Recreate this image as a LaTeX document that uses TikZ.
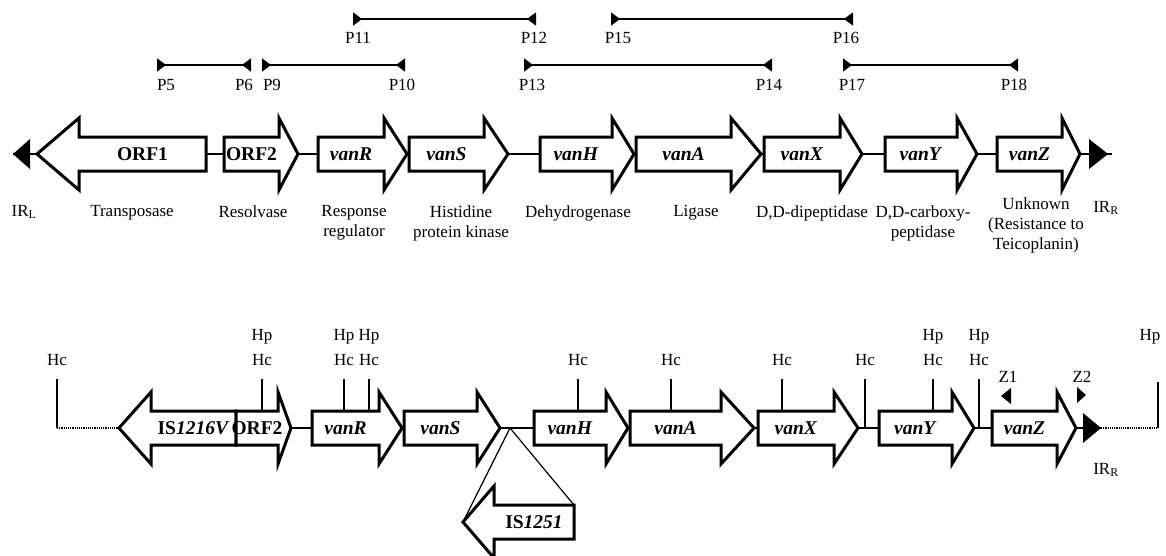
\documentclass[tikz,border=0pt]{standalone}
\usepackage{fontspec}
\setmainfont{Liberation Serif}
\usetikzlibrary{arrows.meta}

\tikzset{
  genebox/.style={draw, line width=3pt, fill=white, line join=miter},
  genelabel/.style={font=\fontsize{19.5}{22}\selectfont\bfseries, inner sep=0pt},
  txt/.style={font=\fontsize{17}{20}\selectfont, inner sep=0pt, align=center},
  primer/.style={line width=1.5pt, {Triangle[reversed,length=9pt,width=13pt]}-{Triangle[reversed,length=9pt,width=13pt]}},
  site/.style={line width=1.2pt},
  link/.style={line width=1.5pt},
}
% gene arrow: name, back end, head base, tip, middle y, text
\newcommand{\gene}[6]{%
  \draw[genebox] (#2,#5-17) -- (#3,#5-17) -- (#3,#5-36) -- (#4,#5) -- (#3,#5+36) -- (#3,#5+17) -- (#2,#5+17) -- cycle;
  \node[genelabel] (#1) at ({(#2+#3)/2},#5) {#6};
}

\begin{document}
\begin{tikzpicture}[line cap=butt, line join=round, x=1pt, y=-1pt]
  \fill[white] (0,0) rectangle (1166,555);
  \useasboundingbox (0,0) rectangle (1166,555);

  % PCR primer pairs, upper row then lower row
  \coordinate (p11) at (353,19);  \coordinate (p12) at (536,19);
  \coordinate (p15) at (611,19);  \coordinate (p16) at (853,19);
  \coordinate (p5) at (157,65);   \coordinate (p6) at (251,65);
  \coordinate (p9) at (262,65);   \coordinate (p10) at (405,65);
  \coordinate (p13) at (524,65);  \coordinate (p14) at (772,65);
  \coordinate (p17) at (843,65);  \coordinate (p18) at (1018,65);
  \draw[primer] (p11) -- (p12);
  \draw[primer] (p15) -- (p16);
  \draw[primer] (p5) -- (p6);
  \draw[primer] (p9) -- (p10);
  \draw[primer] (p13) -- (p14);
  \draw[primer] (p17) -- (p18);
  \node[txt, anchor=north] (l11) at (358,32) {P11};
  \node[txt, anchor=north] (l12) at (534,32) {P12};
  \node[txt, anchor=north] (l15) at (618,32) {P15};
  \node[txt, anchor=north] (l16) at (846,32) {P16};
  \node[txt, anchor=north] (l5) at (166,79) {P5};
  \node[txt, anchor=north] (l6) at (244,79) {P6};
  \node[txt, anchor=north] (l9) at (272,79) {P9};
  \node[txt, anchor=north] (l10) at (402,79) {P10};
  \node[txt, anchor=north] (l13) at (532,79) {P13};
  \node[txt, anchor=north] (l14) at (769,79) {P14};
  \node[txt, anchor=north] (l17) at (852,79) {P17};
  \node[txt, anchor=north] (l18) at (1014,79) {P18};

  % Tn1546 backbone with inverted repeats
  \coordinate (irl) at (13,154);
  \coordinate (irr) at (1112,154);
  \draw[link] (irl) -- (irr);
  \fill (13,154) -- (30,139) -- (30,169) -- cycle;
  \fill (1108,154) -- (1089,139) -- (1089,169) -- cycle;
  \gene{orf1}{206}{79}{37}{154}{ORF1}
  \gene{orf2}{224}{279}{298}{154}{ORF2}
  \gene{vanR}{318}{384}{407}{154}{\textit{vanR}}
  \gene{vanS}{409}{484}{508}{154}{\textit{vanS}}
  \gene{vanH}{540}{612}{634}{154}{\textit{vanH}}
  \gene{vanA}{636}{731}{761}{154}{\textit{vanA}}
  \gene{vanX}{764}{840}{862}{154}{\textit{vanX}}
  \gene{vanY}{885}{957}{977}{154}{\textit{vanY}}
  \gene{vanZ}{997}{1062}{1080}{154}{\textit{vanZ}}

  % gene functions
  \node[txt, anchor=north] (fIRL) at (24,205) {IR\textsubscript{L}};
  \node[txt, anchor=north] (f1) at (132,205) {Transposase};
  \node[txt, anchor=north] (f2) at (253,205) {Resolvase};
  \node[txt, anchor=north] (f3) at (354,205) {Response\\regulator};
  \node[txt, anchor=north] (f4) at (461,205) {Histidine\\protein kinase};
  \node[txt, anchor=north] (f5) at (578,205) {Dehydrogenase};
  \node[txt, anchor=north] (f6) at (696,205) {Ligase};
  \node[txt, anchor=north] (f7) at (812,205) {D,D-dipeptidase};
  \node[txt, anchor=north] (f8) at (923,205) {D,D-carboxy-\\peptidase};
  \node[txt, anchor=north] (f9) at (1036,197) {Unknown\\(Resistance to\\Teicoplanin)};
  \node[txt, anchor=north] (fIRR) at (1106,201) {IR\textsubscript{R}};

  % HpaI / ClaI sites on the variant element
  \foreach \x/\y [count=\i] in {57/428, 262/411, 344/411, 369/411, 578/411, 671/411, 782/411, 865/428, 933/411, 979/428} {
    \node[txt] (hc\i) at (\x,360) {Hc};
    \draw[site] (\x,379) -- (\x,\y);
  }
  \foreach \x [count=\i] in {262, 344, 369, 933, 979, 1150}
    \node[txt] (hp\i) at (\x,337) {Hp};
  \draw[site] (1158,382) -- (1158,428);

  % variant element backbone, dotted flanks
  \coordinate (bl) at (57,428);
  \coordinate (is) at (119,428);
  \coordinate (ir2) at (1101,428);
  \coordinate (br) at (1158,428);
  \draw[site, densely dotted] (bl) -- (is);
  \draw[link] (is) -- (ir2);
  \draw[site, densely dotted] (ir2) -- (br);
  \fill (1101,428) -- (1083,413) -- (1083,443) -- cycle;
  \gene{is1216}{236}{151}{119}{428}{IS\textit{1216V}}
  \gene{orf2b}{236}{278}{291}{428}{ORF2}
  \gene{vanRb}{312}{379}{402}{428}{\textit{vanR}}
  \gene{vanSb}{404}{477}{500}{428}{\textit{vanS}}
  \gene{vanHb}{534}{606}{628}{428}{\textit{vanH}}
  \gene{vanAb}{630}{721}{754}{428}{\textit{vanA}}
  \gene{vanXb}{758}{834}{858}{428}{\textit{vanX}}
  \gene{vanYb}{879}{952}{974}{428}{\textit{vanY}}
  \gene{vanZb}{992}{1057}{1076}{428}{\textit{vanZ}}
  \node[txt] (irR2) at (1106,470) {IR\textsubscript{R}};

  % vanZ primers
  \fill (1001,396) -- (1011,388) -- (1011,404) -- cycle;
  \fill (1086,395) -- (1077,387) -- (1077,403) -- cycle;
  \node[txt] (z1) at (1008,377) {Z1};
  \node[txt] (z2) at (1082,377) {Z2};

  % IS1251 insertion between vanS and vanH
  \coordinate (ins) at (510,428);
  \gene{is1251}{574}{494}{463}{522}{IS\textit{1251}}
  \draw[site] (ins) -- (463,522);
  \draw[site] (ins) -- (574,505);
\end{tikzpicture}
\end{document}
